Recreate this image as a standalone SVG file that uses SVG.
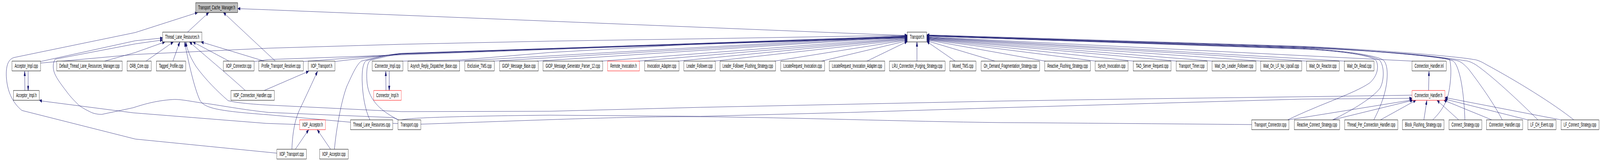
<svg xmlns="http://www.w3.org/2000/svg" width="7449" height="411" viewBox="0 0 7449 411" preserveAspectRatio="none" style="width:100vw;height:100vh;display:block">
<defs>
<style>
.n rect{fill:#ffffff;stroke:#000000;stroke-width:1}
.n.red rect{stroke:#ff0000}
.n.root rect{fill:#bfbfbf}
.n text{font-family:"Liberation Sans",Arial,Helvetica,sans-serif;font-size:14px;fill:#000000;text-anchor:middle}
.e path{fill:none;stroke:#191970;stroke-width:1;marker-end:url(#a)}
</style>
<marker id="a" viewBox="0 0 12 8" refX="12" refY="4" markerWidth="12" markerHeight="8" orient="auto" markerUnits="userSpaceOnUse">
<path d="M0,0 L12,4 L0,8 Z" fill="#191970" stroke="#191970" stroke-width="1"/>
</marker>
</defs>
<rect x="0" y="0" width="7449" height="411" fill="#ffffff"/>
<g id="edges" class="e">
<path d="M873,82 L972,32"/>
<path d="M4224,91 L1250,25 L1107,22"/>
<path d="M1282,156 L1040,32"/>
<path d="M1289,391 L630,355 L102,282 C66,266 36,240 30,200 C26,168 38,152 64,147 L630,83 L920,32"/>
<path d="M189,157 L630,104 L757,97"/>
<path d="M189,161 L630,139 L1250,123 L1870,113 L2560,105 L3260,99 L4224,90"/>
<path d="M1853,306 C1840,302 1830,300 1826,300 L1250,287 C1100,278 1000,266 941,263 C880,258 840,253 805,254 C720,257 660,268 620,275 L474,292 C450,292 430,289 418,285 C395,279 380,274 366,268 C340,254 325,245 309,233 C280,212 258,196 251,182 C245,170 248,158 257,151 L630,112 L757,102"/>
<path d="M487,156 L630,134 L768,107"/>
<path d="M680,156 L807,107"/>
<path d="M805,156 L837,107"/>
<path d="M1066,156 L898,107"/>
<path d="M1230,156 L936,107"/>
<path d="M1142,231 C1050,185 950,140 882,107"/>
<path d="M5828,318 C5400,316 5000,314 4660,313 C4200,310 3700,300 3260,298 C2900,297 2500,307 1959,317 L1632,312 L1250,293 C1000,283 950,275 930,255 C905,225 880,165 859,107"/>
<path d="M6574,243 L6060,247 L5360,252 L4660,258 L3960,266 L3260,274 L2560,284 L1870,285 L1240,268 C1150,265 1100,262 1062,257 C1010,232 960,205 913,170 C890,150 872,130 865,107"/>
<path d="M1870,306 C1900,300 2200,296 2560,294 L3260,297 L3960,287 L4660,275 L5360,264 L6060,253 L6574,251"/>
<path d="M1855,306 C1760,280 1712,250 1708,205 C1705,175 1712,158 1725,154 C1780,146 1830,140 1870,138 L4224,96"/>
<path d="M1722,306 C1700,280 1688,245 1686,205 C1685,175 1692,160 1705,155 C1760,146 1820,139 1870,137 L4224,95"/>
<path d="M1557,381 C1565,330 1590,255 1615,220 C1640,190 1660,165 1682,156 C1750,146 1820,138 1870,136 L4224,94"/>
<path d="M1183,157 L1250,152 L1870,140 L4224,93"/>
<path d="M1412,157 L1870,138 L4224,92"/>
<path d="M1559,157 L1870,137 L4224,92"/>
<path d="M1872,156 L2146,153 L2560,134 L3260,112 L4224,97"/>
<path d="M2135,156 L4224,91"/>
<path d="M2296,156 L4224,93"/>
<path d="M2500,156 L4224,94"/>
<path d="M2800,156 L4224,96"/>
<path d="M2972,156 L4224,98"/>
<path d="M3156,156 L4224,99"/>
<path d="M3325,156 L4224,101"/>
<path d="M3606,156 L4224,102"/>
<path d="M3825,156 L4224,104"/>
<path d="M4036,156 L4224,106"/>
<path d="M4269,156 L4269,107"/>
<path d="M4447,156 L4315,106"/>
<path d="M4632,156 L4315,104"/>
<path d="M4866,156 L4315,102"/>
<path d="M5101,156 L4315,101"/>
<path d="M5278,156 L4315,100"/>
<path d="M5478,156 L4315,99"/>
<path d="M5645,156 L4315,98"/>
<path d="M5871,156 L4315,97"/>
<path d="M6085,156 L4315,96"/>
<path d="M6261,156 L4315,95"/>
<path d="M6576,156 L4315,94"/>
<path d="M5995,306 C6150,265 6300,240 6376,212 C6410,196 6422,172 6407,155 C6390,140 6200,128 6050,125 L4315,92"/>
<path d="M6204,306 C6300,280 6390,250 6425,225 C6445,205 6445,170 6425,155 C6400,140 6200,127 6050,124 L4315,92"/>
<path d="M6396,306 C6420,280 6445,250 6455,215 C6462,185 6458,165 6443,155 C6420,140 6200,126 6050,123 L4315,92"/>
<path d="M6670,306 C6700,290 6733,268 6745,235 C6756,205 6758,170 6749,152 C6700,140 6300,126 6050,122 L4315,91"/>
<path d="M6820,306 C6818,270 6810,220 6795,190 C6785,170 6775,158 6762,155 C6700,142 6300,126 6050,121 L4315,91"/>
<path d="M6994,306 C6960,270 6905,225 6838,177 C6815,163 6800,157 6785,155 C6700,143 6300,125 6050,120 L4315,90"/>
<path d="M7160,306 C7070,257 6945,193 6870,165 C6845,157 6830,155 6820,155 C6700,143 6300,125 6050,119 L4315,90"/>
<path d="M7327,306 C7231,264 7062,207 6920,165 C6890,155 6870,152 6861,152 C6780,143 6300,123 6050,118 L4315,89"/>
<path d="M5998,306 L6576,255"/>
<path d="M6204,306 L6578,256"/>
<path d="M6427,306 L6592,256"/>
<path d="M6629,306 L6643,256"/>
<path d="M6791,306 L6690,256"/>
<path d="M6945,306 L6722,256"/>
<path d="M7113,306 L6727,253"/>
<path d="M7267,306 L6727,249"/>
<path d="M6651,231 L6653,182"/>
<path d="M1395,318 L1240,315 L620,288 L197,258 L183,256"/>
<path d="M116,231 L115,182"/>
<path d="M131,182 L131,231"/>
<path d="M1797,231 L1796,182"/>
<path d="M1812,182 L1812,231"/>
<path d="M1359,381 C1362,335 1375,300 1401,273 C1425,245 1455,210 1478,182"/>
<path d="M1375,381 L1437,331"/>
<path d="M1539,381 L1477,331"/>
<path d="M1230,231 L1437,182"/>
</g>
<g id="n_tcm" class="n root"><rect x="911" y="7" width="196" height="25"/><text x="1009" y="24.5" textLength="172" lengthAdjust="spacingAndGlyphs">Transport_Cache_Manager.h</text></g>
<g id="n_tlrh" class="n"><rect x="757" y="82" width="183" height="25"/><text x="848.5" y="99.5" textLength="159" lengthAdjust="spacingAndGlyphs">Thread_Lane_Resources.h</text></g>
<g id="n_th" class="n"><rect x="4224" y="82" width="91" height="25"/><text x="4269.5" y="99.5" textLength="67" lengthAdjust="spacingAndGlyphs">Transport.h</text></g>
<g id="n_aic" class="n"><rect x="56" y="156" width="133" height="25"/><text x="122.5" y="173.5" textLength="109" lengthAdjust="spacingAndGlyphs">Acceptor_Impl.cpp</text></g>
<g id="n_dtlrm" class="n"><rect x="264" y="156" width="305" height="25"/><text x="416.5" y="173.5" textLength="281" lengthAdjust="spacingAndGlyphs">Default_Thread_Lane_Resources_Manager.cpp</text></g>
<g id="n_orb" class="n"><rect x="592" y="156" width="112" height="25"/><text x="648" y="173.5" textLength="88" lengthAdjust="spacingAndGlyphs">ORB_Core.cpp</text></g>
<g id="n_tp" class="n"><rect x="728" y="156" width="137" height="25"/><text x="796.5" y="173.5" textLength="113" lengthAdjust="spacingAndGlyphs">Tagged_Profile.cpp</text></g>
<g id="n_iconn" class="n"><rect x="1040" y="156" width="143" height="25"/><text x="1111.5" y="173.5" textLength="119" lengthAdjust="spacingAndGlyphs">IIOP_Connector.cpp</text></g>
<g id="n_ptr" class="n"><rect x="1205" y="156" width="207" height="25"/><text x="1308.5" y="173.5" textLength="183" lengthAdjust="spacingAndGlyphs">Profile_Transport_Resolver.cpp</text></g>
<g id="n_ith" class="n"><rect x="1435" y="156" width="124" height="25"/><text x="1497" y="173.5" textLength="100" lengthAdjust="spacingAndGlyphs">IIOP_Transport.h</text></g>
<g id="n_cic" class="n"><rect x="1733" y="156" width="143" height="25"/><text x="1804.5" y="173.5" textLength="119" lengthAdjust="spacingAndGlyphs">Connector_Impl.cpp</text></g>
<g id="n_ardb" class="n"><rect x="1899" y="156" width="241" height="25"/><text x="2019.5" y="173.5" textLength="217" lengthAdjust="spacingAndGlyphs">Asynch_Reply_Dispatcher_Base.cpp</text></g>
<g id="n_etms" class="n"><rect x="2164" y="156" width="137" height="25"/><text x="2232.5" y="173.5" textLength="113" lengthAdjust="spacingAndGlyphs">Exclusive_TMS.cpp</text></g>
<g id="n_gmb" class="n"><rect x="2326" y="156" width="180" height="25"/><text x="2416" y="173.5" textLength="156" lengthAdjust="spacingAndGlyphs">GIOP_Message_Base.cpp</text></g>
<g id="n_gmgp" class="n"><rect x="2528" y="156" width="278" height="25"/><text x="2667" y="173.5" textLength="254" lengthAdjust="spacingAndGlyphs">GIOP_Message_Generator_Parser_12.cpp</text></g>
<g id="n_rih" class="n red"><rect x="2829" y="156" width="148" height="25"/><text x="2903" y="173.5" textLength="124" lengthAdjust="spacingAndGlyphs">Remote_Invocation.h</text></g>
<g id="n_ia" class="n"><rect x="3001" y="156" width="160" height="25"/><text x="3081" y="173.5" textLength="136" lengthAdjust="spacingAndGlyphs">Invocation_Adapter.cpp</text></g>
<g id="n_lf" class="n"><rect x="3184" y="156" width="146" height="25"/><text x="3257" y="173.5" textLength="122" lengthAdjust="spacingAndGlyphs">Leader_Follower.cpp</text></g>
<g id="n_lffs" class="n"><rect x="3352" y="156" width="259" height="25"/><text x="3481.5" y="173.5" textLength="235" lengthAdjust="spacingAndGlyphs">Leader_Follower_Flushing_Strategy.cpp</text></g>
<g id="n_lri" class="n"><rect x="3635" y="156" width="204" height="25"/><text x="3737" y="173.5" textLength="180" lengthAdjust="spacingAndGlyphs">LocateRequest_Invocation.cpp</text></g>
<g id="n_lria" class="n"><rect x="3861" y="156" width="258" height="25"/><text x="3990" y="173.5" textLength="234" lengthAdjust="spacingAndGlyphs">LocateRequest_Invocation_Adapter.cpp</text></g>
<g id="n_lru" class="n"><rect x="4141" y="156" width="259" height="25"/><text x="4270.5" y="173.5" textLength="235" lengthAdjust="spacingAndGlyphs">LRU_Connection_Purging_Strategy.cpp</text></g>
<g id="n_mtms" class="n"><rect x="4422" y="156" width="122" height="25"/><text x="4483" y="173.5" textLength="98" lengthAdjust="spacingAndGlyphs">Muxed_TMS.cpp</text></g>
<g id="n_odfs" class="n"><rect x="4568" y="156" width="272" height="25"/><text x="4704" y="173.5" textLength="248" lengthAdjust="spacingAndGlyphs">On_Demand_Fragmentation_Strategy.cpp</text></g>
<g id="n_rfs" class="n"><rect x="4864" y="156" width="213" height="25"/><text x="4970.5" y="173.5" textLength="189" lengthAdjust="spacingAndGlyphs">Reactive_Flushing_Strategy.cpp</text></g>
<g id="n_si" class="n"><rect x="5099" y="156" width="153" height="25"/><text x="5175.5" y="173.5" textLength="129" lengthAdjust="spacingAndGlyphs">Synch_Invocation.cpp</text></g>
<g id="n_tsr" class="n"><rect x="5276" y="156" width="176" height="25"/><text x="5364" y="173.5" textLength="152" lengthAdjust="spacingAndGlyphs">TAO_Server_Request.cpp</text></g>
<g id="n_tt" class="n"><rect x="5476" y="156" width="144" height="25"/><text x="5548" y="173.5" textLength="120" lengthAdjust="spacingAndGlyphs">Transport_Timer.cpp</text></g>
<g id="n_wolf" class="n"><rect x="5643" y="156" width="204" height="25"/><text x="5745" y="173.5" textLength="180" lengthAdjust="spacingAndGlyphs">Wait_On_Leader_Follower.cpp</text></g>
<g id="n_wolfnu" class="n"><rect x="5869" y="156" width="191" height="25"/><text x="5964.5" y="173.5" textLength="167" lengthAdjust="spacingAndGlyphs">Wait_On_LF_No_Upcall.cpp</text></g>
<g id="n_wor" class="n"><rect x="6083" y="156" width="152" height="25"/><text x="6159" y="173.5" textLength="128" lengthAdjust="spacingAndGlyphs">Wait_On_Reactor.cpp</text></g>
<g id="n_word" class="n"><rect x="6259" y="156" width="138" height="25"/><text x="6328" y="173.5" textLength="114" lengthAdjust="spacingAndGlyphs">Wait_On_Read.cpp</text></g>
<g id="n_chi" class="n"><rect x="6574" y="156" width="159" height="25"/><text x="6653.5" y="173.5" textLength="135" lengthAdjust="spacingAndGlyphs">Connection_Handler.inl</text></g>
<g id="n_aih" class="n"><rect x="63" y="231" width="120" height="25"/><text x="123" y="248.5" textLength="96" lengthAdjust="spacingAndGlyphs">Acceptor_Impl.h</text></g>
<g id="n_ichc" class="n"><rect x="1075" y="231" width="202" height="25"/><text x="1176" y="248.5" textLength="178" lengthAdjust="spacingAndGlyphs">IIOP_Connection_Handler.cpp</text></g>
<g id="n_cih" class="n red"><rect x="1740" y="231" width="128" height="25"/><text x="1804" y="248.5" textLength="104" lengthAdjust="spacingAndGlyphs">Connector_Impl.h</text></g>
<g id="n_chh" class="n red"><rect x="6574" y="231" width="153" height="25"/><text x="6650.5" y="248.5" textLength="129" lengthAdjust="spacingAndGlyphs">Connection_Handler.h</text></g>
<g id="n_iah" class="n red"><rect x="1395" y="306" width="120" height="25"/><text x="1455" y="323.5" textLength="96" lengthAdjust="spacingAndGlyphs">IIOP_Acceptor.h</text></g>
<g id="n_tlrc" class="n"><rect x="1632" y="306" width="197" height="25"/><text x="1730.5" y="323.5" textLength="173" lengthAdjust="spacingAndGlyphs">Thread_Lane_Resources.cpp</text></g>
<g id="n_tc" class="n"><rect x="1853" y="306" width="106" height="25"/><text x="1906" y="323.5" textLength="82" lengthAdjust="spacingAndGlyphs">Transport.cpp</text></g>
<g id="n_tcc" class="n"><rect x="5828" y="306" width="173" height="25"/><text x="5914.5" y="323.5" textLength="149" lengthAdjust="spacingAndGlyphs">Transport_Connector.cpp</text></g>
<g id="n_rcs" class="n"><rect x="6026" y="306" width="211" height="25"/><text x="6131.5" y="323.5" textLength="187" lengthAdjust="spacingAndGlyphs">Reactive_Connect_Strategy.cpp</text></g>
<g id="n_tpch" class="n"><rect x="6260" y="306" width="248" height="25"/><text x="6384" y="323.5" textLength="224" lengthAdjust="spacingAndGlyphs">Thread_Per_Connection_Handler.cpp</text></g>
<g id="n_bfs" class="n"><rect x="6529" y="306" width="194" height="25"/><text x="6626" y="323.5" textLength="170" lengthAdjust="spacingAndGlyphs">Block_Flushing_Strategy.cpp</text></g>
<g id="n_cs" class="n"><rect x="6746" y="306" width="153" height="25"/><text x="6822.5" y="323.5" textLength="129" lengthAdjust="spacingAndGlyphs">Connect_Strategy.cpp</text></g>
<g id="n_chc" class="n"><rect x="6921" y="306" width="168" height="25"/><text x="7005" y="323.5" textLength="144" lengthAdjust="spacingAndGlyphs">Connection_Handler.cpp</text></g>
<g id="n_lfche" class="n"><rect x="7113" y="306" width="131" height="25"/><text x="7178.5" y="323.5" textLength="107" lengthAdjust="spacingAndGlyphs">LF_CH_Event.cpp</text></g>
<g id="n_lfcs" class="n"><rect x="7268" y="306" width="176" height="25"/><text x="7356" y="323.5" textLength="152" lengthAdjust="spacingAndGlyphs">LF_Connect_Strategy.cpp</text></g>
<g id="n_itc" class="n"><rect x="1289" y="381" width="138" height="25"/><text x="1358" y="398.5" textLength="114" lengthAdjust="spacingAndGlyphs">IIOP_Transport.cpp</text></g>
<g id="n_iac" class="n"><rect x="1488" y="381" width="133" height="25"/><text x="1554.5" y="398.5" textLength="109" lengthAdjust="spacingAndGlyphs">IIOP_Acceptor.cpp</text></g>
</svg>
